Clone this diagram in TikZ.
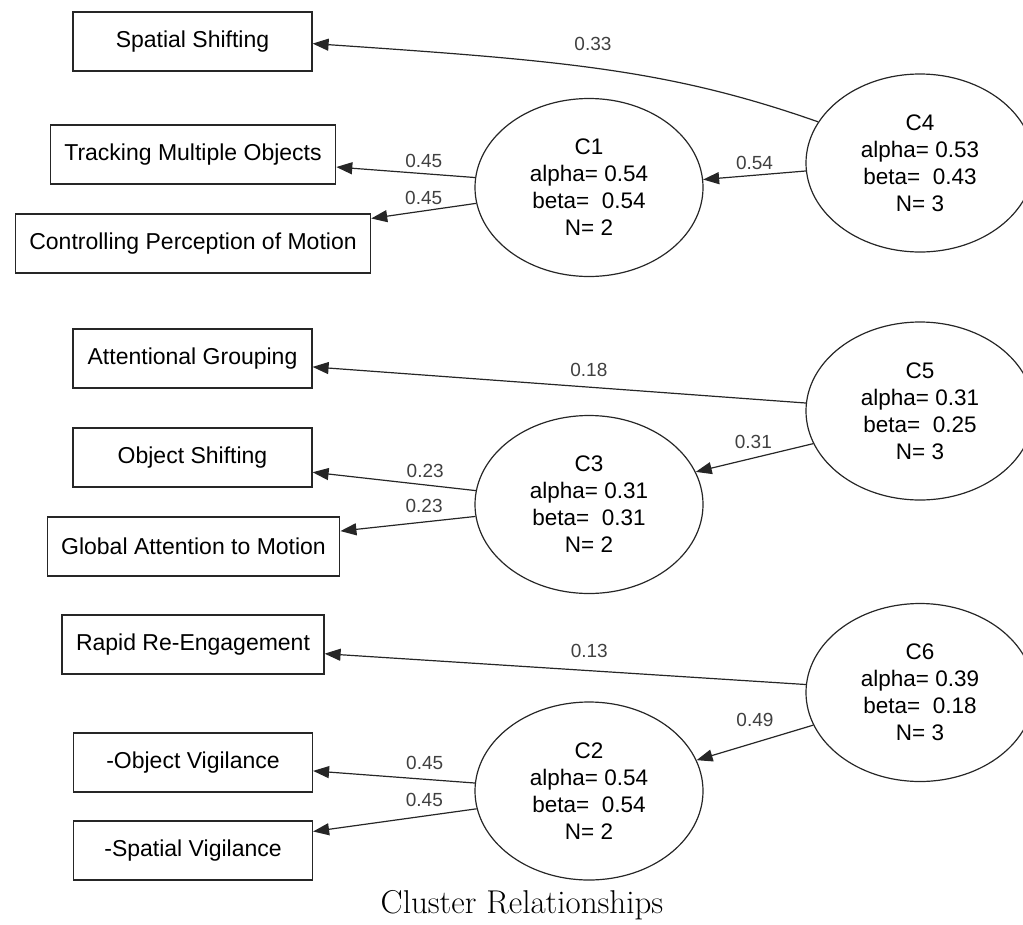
\documentclass[tikz,border=0pt]{standalone}
\usepackage{fontspec}
\setsansfont{Liberation Sans}
\usepackage{tikz}
\usetikzlibrary{arrows.meta}
\usetikzlibrary{shapes.geometric}
\colorlet{linegray}{black!85}
\colorlet{weightgray}{black!75}
\tikzstyle{item}=[draw=linegray,line width=1.2pt,rectangle,minimum width=239pt,minimum height=59pt,inner xsep=14pt,font=\sffamily\fontsize{23}{27}\selectfont]
\tikzstyle{cluster}=[draw=linegray,line width=1.2pt,ellipse,minimum width=228pt,minimum height=178pt,inner sep=0pt,align=center,font=\sffamily\fontsize{22.5}{27}\selectfont]
\tikzstyle{link}=[draw=linegray,line width=1.2pt,-{Triangle[length=16pt,width=12pt]}]
\tikzstyle{weight}=[inner sep=0pt,text=weightgray,font=\sffamily\fontsize{19}{22}\selectfont]

\begin{document}
\begin{tikzpicture}[x=1pt,y=-1pt]
	\useasboundingbox (0,0) rectangle (1023,924);
	% scales
	\node[item] (ss)  at (192.5,41.5)  {Spatial Shifting};
	\node[item] (tmo) at (193,154.5)   {Tracking Multiple Objects};
	\node[item] (cpm) at (193,243.5)   {Controlling Perception of Motion};
	\node[item] (ag)  at (192.5,358.5) {Attentional Grouping};
	\node[item] (os)  at (192.5,457.5) {Object Shifting};
	\node[item] (gam) at (193.5,546.5) {Global Attention to Motion};
	\node[item] (rre) at (193,644.5)   {Rapid Re-Engagement};
	\node[item] (ov)  at (193,762.5)   {-Object Vigilance};
	\node[item] (sv)  at (193,850.5)   {-Spatial Vigilance};
	% clusters
	\node[cluster] (c1) at (589,187.5) {C1\\alpha= 0.54\\beta=\ \ 0.54\\N= 2};
	\node[cluster] (c3) at (589,504.5) {C3\\alpha= 0.31\\beta=\ \ 0.31\\N= 2};
	\node[cluster] (c2) at (589,791)   {C2\\alpha= 0.54\\beta=\ \ 0.54\\N= 2};
	\node[cluster] (c4) at (920,163)   {C4\\alpha= 0.53\\beta=\ \ 0.43\\N= 3};
	\node[cluster] (c5) at (920,411)   {C5\\alpha= 0.31\\beta=\ \ 0.25\\N= 3};
	\node[cluster] (c6) at (920,692.5) {C6\\alpha= 0.39\\beta=\ \ 0.18\\N= 3};
	% links
	\draw[link] (c4.158) .. controls (668,69) and (561,60.5) .. node[weight,pos=0.52,above=17pt]{0.33} (ss.-1);
	\draw[link] (c4.184) --node[weight,pos=0.5,above=5pt]{0.54} (c1.4);
	\draw[link] (c1.175) --node[weight,pos=0.37,above=5pt]{0.45} (tmo.-5);
	\draw[link] (c1.188) --node[weight,pos=0.5,above=6pt]{0.45} (cpm.8);
	\draw[link] (c5.176) --node[weight,pos=0.44,above=10pt]{0.18} (ag.-4);
	\draw[link] (c5.197) --node[weight,pos=0.51,above=9pt]{0.31} (c3.17);
	\draw[link] (c3.173) --node[weight,pos=0.31,above=6.5pt]{0.23} (os.-7);
	\draw[link] (c3.186) --node[weight,pos=0.38,above=8.5pt]{0.23} (gam.6);
	\draw[link] (c6.176) --node[weight,pos=0.45,above=12pt]{0.13} (rre.-4.5);
	\draw[link] (c6.197) --node[weight,pos=0.5,above=15pt]{0.49} (c2.16);
	\draw[link] (c2.176) --node[weight,pos=0.31,above=9pt]{0.45} (ov.-4);
	\draw[link] (c2.189) --node[weight,pos=0.32,above=8.5pt]{0.45} (sv.9);
	% caption
	\node[font=\rmfamily\fontsize{33}{40}\selectfont] (title) at (522,905) {Cluster Relationships};
\end{tikzpicture}
\end{document}
